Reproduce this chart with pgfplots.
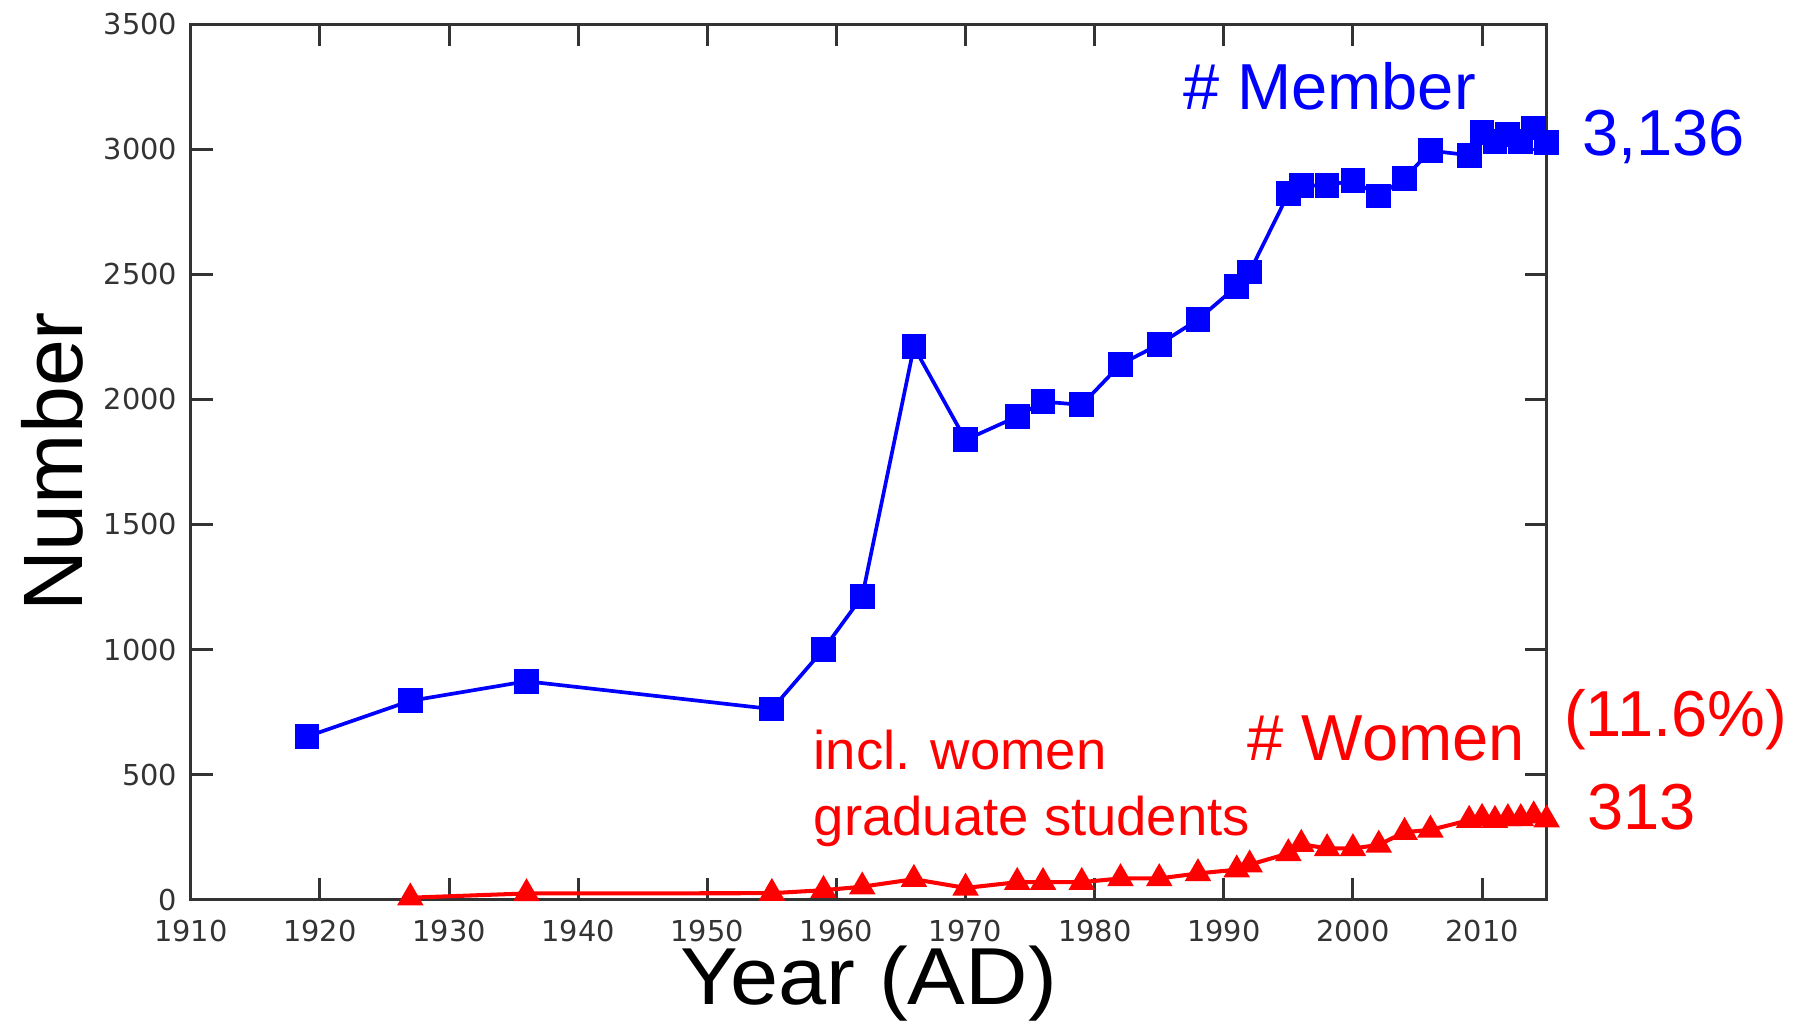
\documentclass[border=0pt]{standalone}
\usepackage{pgfplots}
\pgfplotsset{compat=1.18}
\usepackage{graphicx}
\usepackage{fontspec}
\setmainfont{Liberation Sans}
\newfontfamily\dejavu{DejaVu Sans}
\definecolor{axgray}{HTML}{333333}
\begin{document}
\begin{tikzpicture}
\useasboundingbox (-19.08mm,-12.23mm) rectangle (161.12mm,89.97mm);
\begin{axis}[
  at={(0,0)}, anchor=south west,
  scale only axis,
  width=135.58mm, height=87.56mm,
  xmin=1910, xmax=2015, ymin=0, ymax=3500,
  xtick={1910,1920,...,2010},
  ytick={0,500,...,3500},
  tick align=inside,
  major tick length=2.2mm,
  tick style={line width=0.3mm, color=axgray},
  axis line style={line width=0.3mm, color=axgray},
  /pgf/number format/1000 sep={},
  /pgf/number format/assume math mode=true,
  tick label style={font=\dejavu\fontsize{8.2}{10}\selectfont, color=axgray},
  yticklabel style={inner sep=0pt, xshift=-1.3mm},
  xticklabel style={inner sep=0pt, yshift=-2.0mm},
  xlabel={\scalebox{1.07}[1]{Year (AD)}},
  ylabel={Number},
  every axis x label/.style={at={([yshift=-10.5mm]axis description cs:0.5,0)}, anchor=base, inner sep=0pt, font=\fontsize{23}{26}\selectfont},
  every axis y label/.style={at={([xshift=-10.8mm]axis description cs:0,0.5)}, rotate=90, anchor=base, inner sep=0pt, font=\fontsize{24}{28}\selectfont},
  clip=false,
]
\addplot[color=blue, line width=1.05pt, mark=square*, mark size=3pt, mark options={solid, fill=blue}] coordinates {
(1919,652) (1927,795) (1936,873) (1955,762) (1959,1001) (1962,1213)
(1966,2210) (1970,1838) (1974,1931) (1976,1991) (1979,1978) (1982,2140)
(1985,2220) (1988,2319) (1991,2452) (1992,2509) (1995,2822) (1996,2855)
(1998,2855) (2000,2875) (2002,2813) (2004,2884) (2006,2994) (2009,2976)
(2010,3068) (2011,3030) (2012,3060) (2013,3030) (2014,3085) (2015,3026)
};
\addplot[color=red, line width=1.15pt, mark=triangle*, mark size=3.2pt, mark options={solid, fill=red}] coordinates {
(1927,8) (1936,25) (1955,26) (1959,38) (1962,52) (1966,82) (1970,47)
(1974,70) (1976,70) (1979,70) (1982,85) (1985,85) (1988,105) (1991,120)
(1992,140) (1995,185) (1996,222) (1998,205) (2000,205) (2002,219)
(2004,270) (2006,279) (2009,318) (2010,326) (2011,318) (2012,325)
(2013,325) (2014,336) (2015,320)
};
\node[anchor=base west, inner sep=0pt, text=blue, font=\fontsize{18.5}{20}\selectfont] at (axis cs:1986.8,3160) {\# Member};
\node[anchor=base west, inner sep=0pt, text=blue, font=\fontsize{18.5}{20}\selectfont] at (axis cs:2017.7,2976) {3,136};
\node[anchor=base west, inner sep=0pt, text=red, font=\fontsize{18.5}{20}\selectfont] at (axis cs:2016.3,652) {(11.6\%)};
\node[anchor=base west, inner sep=0pt, text=red, font=\fontsize{18.5}{20}\selectfont] at (axis cs:2018.1,280) {313};
\node[anchor=base west, inner sep=0pt, text=red, font=\fontsize{18.5}{20}\selectfont] at (axis cs:1991.8,556) {\# Women};
\node[anchor=base west, inner sep=0pt, text=red, font=\fontsize{15.5}{18}\selectfont] at (axis cs:1958.2,519) {incl. women};
\node[anchor=base west, inner sep=0pt, text=red, font=\fontsize{15.5}{18}\selectfont] at (axis cs:1958.2,257) {graduate students};
\end{axis}
\end{tikzpicture}
\end{document}
